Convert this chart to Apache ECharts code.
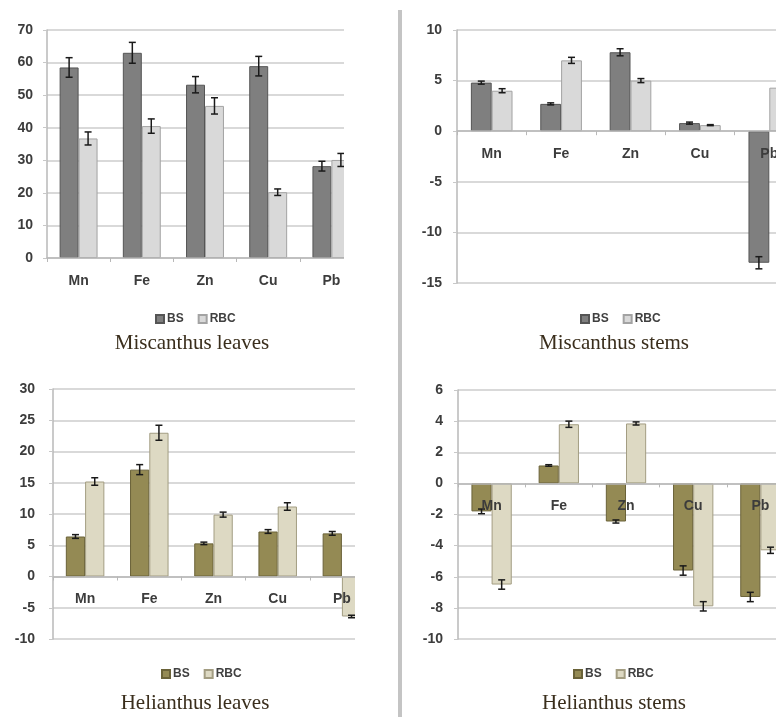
<!DOCTYPE html>
<html>
<head>
<meta charset="utf-8">
<script src="https://cdn.jsdelivr.net/npm/echarts@6/dist/echarts.min.js"></script>
<style>html,body{margin:0;padding:0;background:#fff}#c{width:776px;height:717px}</style>
</head>
<body>
<div id="c"></div>
<script>
const categories = ['Mn', 'Fe', 'Zn', 'Cu', 'Pb'];

// Miscanthus leaves
const misLeavesBS = [58.5, 63.0, 53.2, 58.9, 28.2];
const misLeavesBSErr = [3.0, 3.2, 2.5, 3.0, 1.5];
const misLeavesRBC = [36.7, 40.5, 46.7, 20.2, 30.1];
const misLeavesRBCErr = [2.0, 2.2, 2.5, 1.0, 2.0];

// Miscanthus stems
const misStemsBS = [4.8, 2.7, 7.8, 0.8, -13.0];
const misStemsBSErr = [0.15, 0.1, 0.35, 0.1, 0.6];
const misStemsRBC = [4.0, 7.0, 5.0, 0.6, 4.3];
const misStemsRBCErr = [0.2, 0.3, 0.2, 0.05, 0.2];

// Helianthus leaves
const helLeavesBS = [6.4, 17.1, 5.3, 7.2, 6.9];
const helLeavesBSErr = [0.3, 0.8, 0.2, 0.3, 0.3];
const helLeavesRBC = [15.2, 23.0, 9.9, 11.2, -6.4];
const helLeavesRBCErr = [0.6, 1.2, 0.4, 0.6, 0.2];

// Helianthus stems
const helStemsBS = [-1.8, 1.15, -2.45, -5.6, -7.3];
const helStemsBSErr = [0.15, 0.05, 0.1, 0.3, 0.3];
const helStemsRBC = [-6.5, 3.8, 3.85, -7.9, -4.3];
const helStemsRBCErr = [0.3, 0.2, 0.1, 0.3, 0.2];

const panelTitles = ['Miscanthus leaves', 'Miscanthus stems', 'Helianthus leaves', 'Helianthus stems'];
const yMin = [0, -15, -10, -10];
const yMax = [70, 10, 30, 6];
const yStep = [10, 5, 5, 2];

const panels = [
  {bs: misLeavesBS, bsE: misLeavesBSErr, rbc: misLeavesRBC, rbcE: misLeavesRBCErr, grid: {left: 47, top: 30, width: 316, height: 228}, yMargin: 14, legend: {left: 150, top: 308}, title: [192, 343], suffix: '', colors: 'g'},
  {bs: misStemsBS, bsE: misStemsBSErr, rbc: misStemsRBC, rbcE: misStemsRBCErr, grid: {left: 457, top: 30, width: 347, height: 253}, yMargin: 15, legend: {left: 575, top: 308}, title: [614, 343], suffix: '', colors: 'g'},
  {bs: helLeavesBS, bsE: helLeavesBSErr, rbc: helLeavesRBC, rbcE: helLeavesRBCErr, grid: {left: 53, top: 389, width: 321, height: 250}, yMargin: 18, legend: {left: 156, top: 663}, title: [195, 703], suffix: '_h', colors: 'o'},
  {bs: helStemsBS, bsE: helStemsBSErr, rbc: helStemsRBC, rbcE: helStemsRBCErr, grid: {left: 458, top: 390, width: 336, height: 249}, yMargin: 15, legend: {left: 568, top: 663}, title: [614, 703], suffix: '_h', colors: 'o'}
];

const palette = {
  g: {bs: '#7f7f7f', bsB: '#555555', rbc: '#d9d9d9', rbcB: '#a3a3a3'},
  o: {bs: '#948a54', bsB: '#6a6238', rbc: '#ddd9c3', rbcB: '#a39d82'}
};

const labelFont = {color: '#3c3c3c', fontSize: 14, fontWeight: 'bold', fontFamily: 'Liberation Sans'};

const option = {
  backgroundColor: '#ffffff',
  animation: false,
  grid: [], xAxis: [], yAxis: [], series: [], legend: [], graphic: []
};

function errRender(params, api) {
  const ci = api.value(0), lo = api.value(1), hi = api.value(2), side = api.value(3);
  const band = api.size([1, 0])[0];
  const a = api.coord([ci, lo]);
  const b = api.coord([ci, hi]);
  const x = a[0] + (side === 0 ? -1 : 1) * band * 0.15;
  const cap = 3.5;
  const st = {stroke: '#1a1a1a', lineWidth: 1.5};
  return {
    type: 'group',
    children: [
      {type: 'line', shape: {x1: x, y1: a[1], x2: x, y2: b[1]}, style: st},
      {type: 'line', shape: {x1: x - cap, y1: a[1], x2: x + cap, y2: a[1]}, style: st},
      {type: 'line', shape: {x1: x - cap, y1: b[1], x2: x + cap, y2: b[1]}, style: st}
    ]
  };
}

panels.forEach((p, i) => {
  const c = palette[p.colors];
  option.grid.push(Object.assign({outerBoundsMode: 'none', containLabel: false}, p.grid));
  // place the category axis (line, ticks, labels) on the zero value of the y axis
  const zeroOffset = -p.grid.height * (0 - yMin[i]) / (yMax[i] - yMin[i]);
  option.xAxis.push({
    type: 'category', gridIndex: i, data: categories, z: 5,
    position: 'bottom', offset: zeroOffset,
    axisLine: {onZero: false, lineStyle: {color: '#b8b8b8', width: 1.5}},
    axisTick: {show: true, length: 4, lineStyle: {color: '#b8b8b8'}},
    axisLabel: Object.assign({margin: 16}, labelFont),
    splitLine: {show: false}
  });
  option.yAxis.push({
    type: 'value', gridIndex: i, min: yMin[i], max: yMax[i], interval: yStep[i],
    axisLine: {show: true, lineStyle: {color: '#b8b8b8', width: 1.5}},
    axisTick: {show: true, length: 4, lineStyle: {color: '#c8c8c8'}},
    axisLabel: Object.assign({margin: p.yMargin}, labelFont),
    splitLine: {show: true, lineStyle: {color: '#d9d9d9', width: 2}}
  });
  const bsName = 'BS' + p.suffix, rbcName = 'RBC' + p.suffix;
  option.series.push({
    name: bsName, type: 'bar', xAxisIndex: i, yAxisIndex: i, data: p.bs,
    barWidth: '30%', barGap: '0%',
    itemStyle: {color: c.bs, borderColor: c.bsB, borderWidth: 1}
  });
  option.series.push({
    name: rbcName, type: 'bar', xAxisIndex: i, yAxisIndex: i, data: p.rbc,
    barWidth: '30%', barGap: '0%',
    itemStyle: {color: c.rbc, borderColor: c.rbcB, borderWidth: 1}
  });
  const errData = [];
  categories.forEach((_, k) => {
    errData.push([k, p.bs[k] - p.bsE[k], p.bs[k] + p.bsE[k], 0]);
    errData.push([k, p.rbc[k] - p.rbcE[k], p.rbc[k] + p.rbcE[k], 1]);
  });
  option.series.push({
    type: 'custom', xAxisIndex: i, yAxisIndex: i, data: errData, z: 4,
    renderItem: errRender, encode: {x: 0, y: [1, 2]}, silent: true
  });
  option.legend.push({
    data: [bsName, rbcName], left: p.legend.left, top: p.legend.top,
    itemWidth: 8, itemHeight: 8, itemGap: 14, icon: 'rect',
    formatter: n => n.replace('_h', ''),
    textStyle: {color: '#404040', fontSize: 12, fontWeight: 'bold', fontFamily: 'Liberation Sans', padding: [0, 0, 0, -2]}
  });
  option.graphic.push({
    type: 'text', x: p.title[0], y: p.title[1], z: 100,
    style: {text: panelTitles[i], fill: '#3a2e1c', font: '21px "Liberation Serif"', align: 'center', verticalAlign: 'middle'}
  });
});

// crop covers for the left panels and the divider
option.graphic.push({type: 'rect', z: 50, shape: {x: 344, y: 0, width: 54, height: 360}, style: {fill: '#ffffff'}});
option.graphic.push({type: 'rect', z: 50, shape: {x: 355, y: 360, width: 43, height: 357}, style: {fill: '#ffffff'}});
option.graphic.push({type: 'rect', z: 60, shape: {x: 398, y: 10, width: 4, height: 707}, style: {fill: '#c4c4c4'}});

const chart = echarts.init(document.getElementById('c'), null, {renderer: 'canvas'});
chart.setOption(option);
</script>
</body>
</html>
